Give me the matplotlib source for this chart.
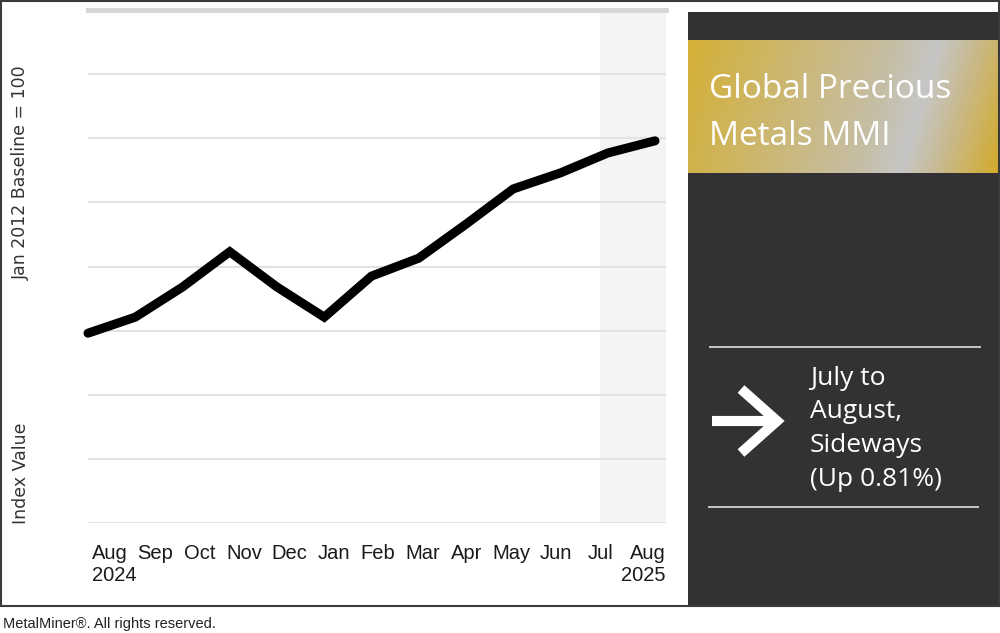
import numpy as np
import matplotlib
matplotlib.use("Agg")
import matplotlib.pyplot as plt
from matplotlib.patches import Rectangle
from matplotlib.colors import LinearSegmentedColormap

# ---------------- data ----------------
months = ['Aug\n2024', 'Sep', 'Oct', 'Nov', 'Dec', 'Jan', 'Feb', 'Mar',
          'Apr', 'May', 'Jun', 'Jul', 'Aug\n2025']
index_values = [2.96, 3.21, 3.68, 4.23, 3.68, 3.21, 3.85, 4.13,
                4.66, 5.21, 5.46, 5.77, 5.96]
title_lines = ['Global Precious', 'Metals MMI']
status_lines = ['July to', 'August,', 'Sideways', '(Up 0.81%)']
ylabel_top = 'Jan 2012 Baseline = 100'
ylabel_bottom = 'Index Value'
footer = 'MetalMiner\u00ae. All rights reserved.'

W, H = 1000, 633
fig = plt.figure(figsize=(W / 100, H / 100), dpi=100)
fig.patch.set_facecolor('white')

# ---------------- decoration layer (pixel coordinates) ----------------
deco = fig.add_axes([0, 0, 1, 1], zorder=0)
deco.set_xlim(0, W)
deco.set_ylim(H, 0)
deco.axis('off')

# dark side panel
deco.add_patch(Rectangle((688, 12), 312, 594, facecolor='#333133',
                         edgecolor='none', zorder=1))

# gold/silver gradient band
bx0, bx1, by0, by1 = 688, 998, 40, 173
xx, yy = np.meshgrid(np.arange(bx0, bx1), np.arange(by0, by1))
t = ((xx - bx0) * 138 + (yy - by0) * 40) / (310 * 138 + 133 * 40)
cmap = LinearSegmentedColormap.from_list('gold', [
    (0.00, '#d4b036'),
    (0.35, '#cbb879'),
    (0.60, '#c5bea6'),
    (0.72, '#c6c6c6'),
    (0.82, '#c8bb94'),
    (1.00, '#d3aa2a'),
])
deco.imshow(t, cmap=cmap, vmin=0, vmax=1, origin='upper',
            extent=[bx0, bx1, by1, by0], aspect='auto',
            interpolation='bilinear', zorder=2)
deco.set_xlim(0, W)
deco.set_ylim(H, 0)

# outer frame
deco.add_patch(Rectangle((1, 1), 998, 605, facecolor='none',
                         edgecolor='#3b3b3b', lw=1.5, zorder=3))

# title text
for line, yb in zip(title_lines, [98, 145]):
    deco.text(709, yb, line, color='white', fontsize=24, family='Open Sans',
              va='baseline', ha='left', zorder=4)

# separator lines
deco.plot([709, 981], [347, 347], color='#e0e0e0', lw=1.2,
          solid_capstyle='butt', zorder=4)
deco.plot([708, 979], [507, 507], color='#e0e0e0', lw=1.2,
          solid_capstyle='butt', zorder=4)

# arrow
deco.plot([712, 776], [421, 421], color='white', lw=7.3,
          solid_capstyle='butt', zorder=4)
deco.plot([741, 777, 741], [389, 421, 453], color='white', lw=7.3,
          solid_capstyle='butt', solid_joinstyle='miter', zorder=4)

# status text
for line, yb in zip(status_lines, [385, 418, 452, 486]):
    deco.text(810, yb, line, color='white', fontsize=19, family='Open Sans',
              va='baseline', ha='left', zorder=4)

# footer
deco.text(3, 628, footer, color='#222222', fontsize=10.5,
          family='Liberation Sans', va='baseline', ha='left')

# ---------------- chart ----------------
ax = fig.add_axes([88 / W, 1 - 523 / H, (666 - 88) / W, (523 - 10) / H], zorder=2)
ax.set_facecolor('white')
x = np.arange(len(index_values))
unit = (655 - 88) / 12.0
xmax = (666 - 88) / unit
ax.set_xlim(0, xmax)
ax.set_ylim(0, 8)

# shaded latest-period band
ax.axvspan((600 - 88) / unit, xmax, color='#f3f5f4', zorder=0, lw=0)

# gridlines
for gy in range(0, 8):
    ax.axhline(gy, color='#e2e2e2', lw=1.5, zorder=1)
ax.axhline(8, color='#d5d6d8', lw=3.5, zorder=1, clip_on=False)

ax.plot(x, index_values, color='black', lw=6.5, solid_joinstyle='miter',
        solid_capstyle='round', zorder=3, clip_on=False)

for s in ax.spines.values():
    s.set_visible(False)
ax.set_yticks([])

# x labels
tick_pos = [0.08] + [0.487 + 0.942 * k for k in range(1, 12)] + [xmax]
ax.set_xticks(tick_pos)
ax.set_xticklabels(months, fontsize=14.5, family='Liberation Sans', color='#1a1a1a')
ax.tick_params(axis='x', length=0, pad=15)
lbls = ax.get_xticklabels()
lbls[0].set_ha('left')
lbls[-1].set_ha('right')

# y labels
fig.text(21 / W, 1 - 173 / H, ylabel_top, rotation=90, fontsize=12.5,
         family='DejaVu Sans', color='#333333', ha='center', va='center')
fig.text(21 / W, 1 - 473 / H, ylabel_bottom, rotation=90, fontsize=12.5,
         family='DejaVu Sans', color='#333333', ha='center', va='center')

fig.savefig('out.png', dpi=100, facecolor='white')
